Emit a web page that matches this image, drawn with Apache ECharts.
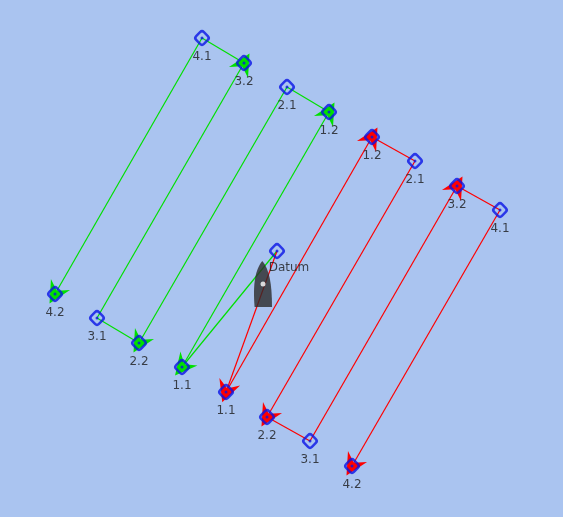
<!DOCTYPE html>
<html lang="en">
<head>
<meta charset="UTF-8">
<script src="https://cdn.jsdelivr.net/npm/echarts@6/dist/echarts.min.js"></script>
<style>html,body{margin:0;padding:0;background:#aac4f0;}</style>
</head>
<body>
<div id="main" style="width:563px;height:517px;"></div>
<script>
// search pattern waypoints, in chart units (x right, y down)
var datum = [277, 251];
var boatPos = [263, 284];
var greenNames = ['1.1', '1.2', '2.1', '2.2', '3.1', '3.2', '4.1', '4.2'];
var greenPts = [[182, 367], [329, 112], [287, 87], [139, 343], [97, 318], [244, 63], [202, 38], [55, 294]];
var redNames = ['1.1', '1.2', '2.1', '2.2', '3.1', '3.2', '4.1', '4.2'];
var redPts = [[226, 392], [372, 137], [415, 161], [267, 417], [310, 441], [457, 186], [500, 210], [352, 466]];

var arrowPath = 'path://M5,0 L10,15 L5,10 L0,15 Z';

function buildLegs(pts) {
    var longLegs = [], shortLegs = [];
    var path = [datum].concat(pts);
    for (var i = 0; i < path.length - 1; i++) {
        // legs 0,1,3,5,7 are the long runs ending in arrows
        if (i % 2 === 1 && i !== 1 || i === 0 || i === 1) {
            if (i === 2 || i === 4 || i === 6) { shortLegs.push({coords: [path[i], path[i + 1]]}); }
            else { longLegs.push({coords: [path[i], path[i + 1]]}); }
        } else {
            shortLegs.push({coords: [path[i], path[i + 1]]});
        }
    }
    return {longLegs: longLegs, shortLegs: shortLegs};
}

function legSeries(pts, color) {
    var legs = buildLegs(pts);
    return [{
        type: 'lines', coordinateSystem: 'cartesian2d', z: 2,
        symbol: ['none', arrowPath], symbolSize: [15, 22],
        lineStyle: {color: color, width: 1.2, opacity: 1},
        itemStyle: {color: color},
        data: legs.longLegs
    }, {
        type: 'lines', coordinateSystem: 'cartesian2d', z: 2,
        symbol: ['none', 'none'],
        lineStyle: {color: color, width: 1.2, opacity: 1},
        data: legs.shortLegs
    }];
}

function pointData(names, pts) {
    return pts.map(function (p, i) { return {name: names[i], value: p}; });
}

var markerStyle = {color: 'rgba(0,0,0,0)', borderColor: '#0a14e6', borderWidth: 2.5};
var labelStyle = {show: true, position: 'bottom', distance: 3, color: '#1a1a1a',
    fontSize: 12, fontFamily: 'DejaVu Sans', formatter: '{b}'};

var allPts = greenPts.concat(redPts).concat([datum]);

var myChart = echarts.init(document.getElementById('main'));
var option = {
    backgroundColor: '#aac4f0',
    animation: false,
    grid: {left: 0, right: 0, top: 0, bottom: 0},
    xAxis: {type: 'value', min: 0, max: 563, show: false},
    yAxis: {type: 'value', min: 0, max: 517, inverse: true, show: false},
    series: legSeries(greenPts, '#00e000').concat(legSeries(redPts, '#ff0000')).concat([{
        type: 'scatter', z: 4, symbol: 'roundRect', symbolRotate: 45, symbolSize: 11,
        itemStyle: markerStyle, label: labelStyle,
        data: pointData(greenNames, greenPts).concat(pointData(redNames, redPts))
    }, {
        type: 'scatter', z: 4, symbol: 'roundRect', symbolRotate: 45, symbolSize: 11,
        itemStyle: markerStyle,
        label: {show: true, position: 'bottom', distance: 3, offset: [12, -2], color: '#1a1a1a',
            fontSize: 12, fontFamily: 'DejaVu Sans', formatter: '{b}'},
        data: [{name: 'Datum', value: datum}]
    }, {
        type: 'scatter', z: 5, symbol: 'circle', symbolSize: 3,
        itemStyle: {color: '#0a14e6'},
        data: allPts
    }, {
        type: 'scatter', z: 6,
        symbol: 'path://M10,0 C17,8 20,22 20,46 L2,46 C0,22 3,8 10,0 Z', symbolSize: [18, 46],
        itemStyle: {color: '#2b2b2b'},
        data: [boatPos]
    }, {
        type: 'scatter', z: 7, symbol: 'circle', symbolSize: 5,
        itemStyle: {color: '#ffffff'},
        data: [boatPos]
    }])
};
myChart.setOption(option);
</script>
</body>
</html>
